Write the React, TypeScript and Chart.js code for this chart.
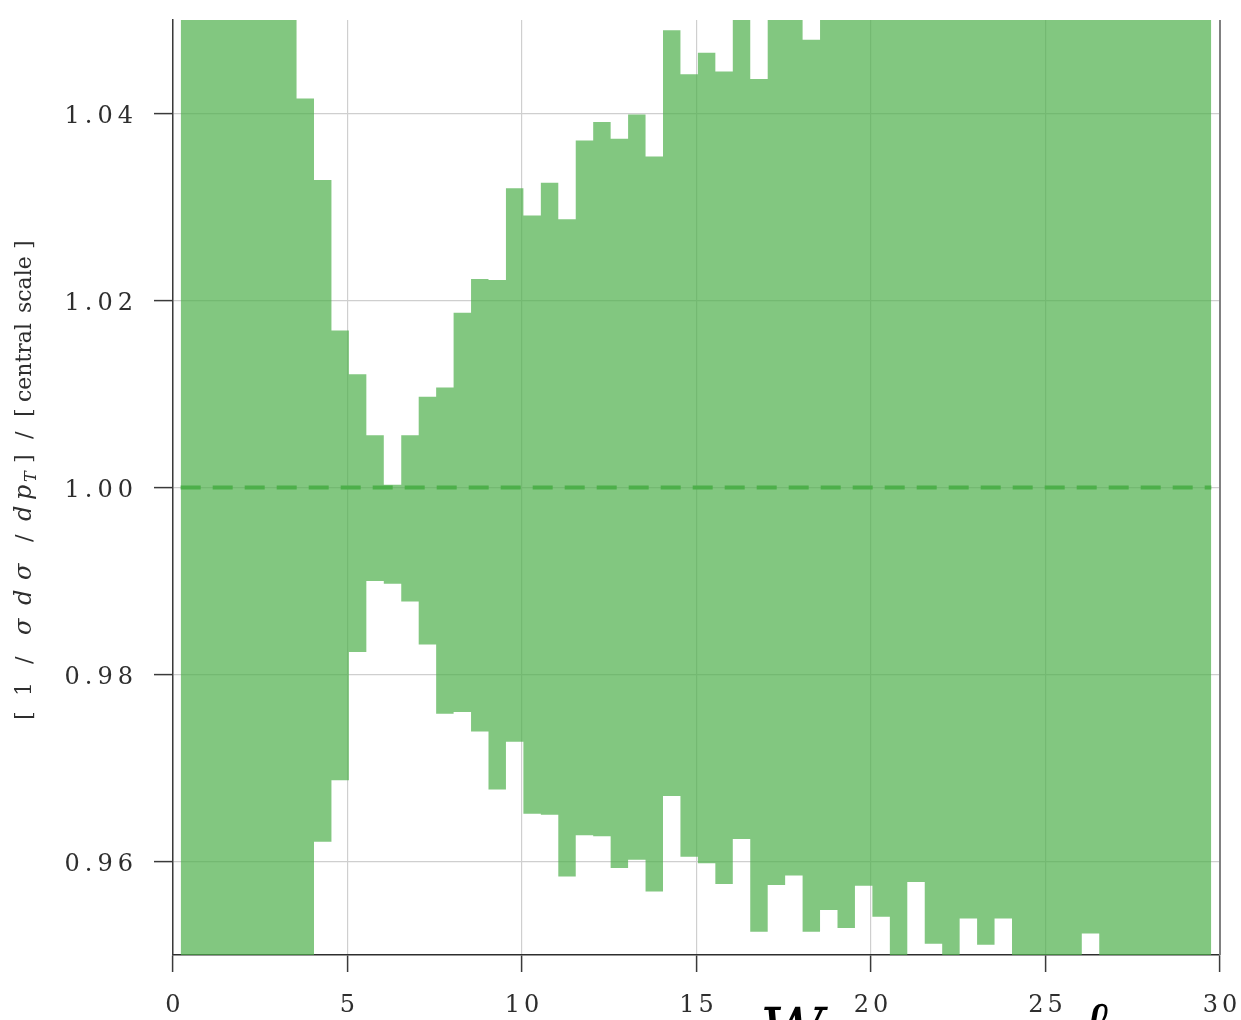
import { useEffect, useRef } from 'react';
import { Chart, registerables } from 'chart.js';

Chart.register(...registerables);

// Bin edges (pT) of the stepped band
const binEdges = [
  0.22, 0.54, 1.04, 1.54, 2.04, 2.54, 3.04, 3.54, 4.04, 4.54,
  5.04, 5.54, 6.04, 6.54, 7.04, 7.54, 8.04, 8.54, 9.04, 9.54,
  10.04, 10.54, 11.04, 11.54, 12.04, 12.54, 13.04, 13.54, 14.04, 14.54,
  15.04, 15.54, 16.04, 16.54, 17.04, 17.54, 18.04, 18.54, 19.04, 19.54,
  20.04, 20.54, 21.04, 21.54, 22.04, 22.54, 23.04, 23.54, 24.04, 24.54,
  25.04, 25.54, 26.04, 26.54, 27.04, 27.54, 28.04, 28.54, 29.04, 29.54,
  29.75,
];

// Upper edge of the scale-variation band, one value per bin
const upperBand = [
  1.09, 1.08, 1.075, 1.07, 1.065, 1.06, 1.055, 1.0416, 1.0329, 1.0168,
  1.0121, 1.0056, 1.0003, 1.0056, 1.0097, 1.0107, 1.0187, 1.0223, 1.0222, 1.032,
  1.0291, 1.0326, 1.0287, 1.0371, 1.0391, 1.0373, 1.0399, 1.0354, 1.0489, 1.0442,
  1.0465, 1.0445, 1.052, 1.0437, 1.053, 1.051, 1.0479, 1.056, 1.054, 1.058,
  1.057, 1.06, 1.055, 1.059, 1.062, 1.057, 1.061, 1.063, 1.058, 1.06,
  1.064, 1.062, 1.059, 1.065, 1.061, 1.063, 1.066, 1.062, 1.064, 1.067,
];

// Lower edge of the band, one value per bin
const lowerBand = [
  0.92, 0.93, 0.935, 0.94, 0.94, 0.945, 0.945, 0.948, 0.9621, 0.9687,
  0.9824, 0.99, 0.9897, 0.9878, 0.9832, 0.9758, 0.976, 0.9739, 0.9677, 0.9728,
  0.9651, 0.965, 0.9584, 0.9628, 0.9627, 0.9593, 0.9602, 0.9568, 0.967, 0.9605,
  0.9598, 0.9576, 0.9624, 0.9525, 0.9575, 0.9585, 0.9525, 0.9548, 0.9529, 0.9574,
  0.9541, 0.948, 0.9578, 0.9512, 0.947, 0.9539, 0.9511, 0.9539, 0.946, 0.949,
  0.945, 0.948, 0.9523, 0.947, 0.944, 0.946, 0.943, 0.945, 0.94, 0.942,
];

// Central scale reference line
const centralX = [0.22, 29.75];
const centralY = [1.0, 1.0];

const xTickValues = [0, 5, 10, 15, 20, 25, 30];
const xTickLabels = ['0', '5', '10', '15', '20', '25', '30'];
const yTickValues = [0.96, 0.98, 1.0, 1.02, 1.04];
const yTickLabels = ['0.96', '0.98', '1.00', '1.02', '1.04'];

// y-axis title pieces: [text, italic, subscript]
const yTitleParts: [string, boolean, boolean][] = [
  ['[', false, false],
  ['1', false, false],
  ['/', false, false],
  ['σ', true, false],
  ['d', true, false],
  ['σ', true, false],
  ['/', false, false],
  ['d', true, false],
  ['p', true, false],
  ['T', true, true],
  [']', false, false],
  ['/', false, false],
  ['[', false, false],
  ['central', false, false],
  ['scale', false, false],
  [']', false, false],
];

const bottomTextLeft = 'W';
const bottomTextRight = 'ℓ';

const FILL = 'rgba(77,175,74,0.7)';
const LINE = '#4daf4a';
const SERIF = '"DejaVu Serif", "Liberation Serif", serif';

// layout of the rotated title pieces (distance along the text from its start)
const TITLE_OFFSETS = [7, 31, 63, 92, 122, 147, 185, 206, 227, 245, 264, 288, 310, 325, 414, 478];

const stepPoints = (vals: number[]) =>
  binEdges.map((x, i) => ({ x, y: vals[Math.min(i, vals.length - 1)] }));

const decorPlugin = {
  id: 'decor',
  afterDraw(chart: any) {
    const { ctx, chartArea: a, scales } = chart;
    const xs = scales.x;
    const ys = scales.y;
    ctx.save();
    // right spine
    ctx.strokeStyle = '#808080';
    ctx.lineWidth = 2;
    ctx.beginPath();
    ctx.moveTo(a.right, a.top);
    ctx.lineTo(a.right, a.bottom);
    ctx.stroke();

    // tick labels
    ctx.fillStyle = '#2e2e2e';
    ctx.font = `24px ${SERIF}`;
    ctx.letterSpacing = '4px';
    ctx.textBaseline = 'alphabetic';
    ctx.textAlign = 'center';
    xTickValues.forEach((v, i) => {
      ctx.fillText(xTickLabels[i], xs.getPixelForValue(v) + 2, 1012);
    });
    ctx.letterSpacing = '5px';
    ctx.textAlign = 'right';
    yTickValues.forEach((v, i) => {
      ctx.fillText(yTickLabels[i], 138, ys.getPixelForValue(v) + 9);
    });

    // y-axis title (rotated)
    ctx.letterSpacing = '0px';
    ctx.textAlign = 'left';
    ctx.translate(31, 727);
    ctx.rotate(-Math.PI / 2);
    yTitleParts.forEach(([t, it, sub], i) => {
      ctx.font = `${it ? 'italic ' : ''}${sub ? 16 : it ? 24 : 22}px ${SERIF}`;
      ctx.fillText(t, TITLE_OFFSETS[i], sub ? 5 : 0);
    });
    ctx.restore();

    // large, partially visible label at the bottom
    ctx.save();
    ctx.fillStyle = '#000';
    ctx.letterSpacing = '0px';
    ctx.font = `italic 62px ${SERIF}`;
    ctx.textAlign = 'left';
    ctx.textBaseline = 'alphabetic';
    ctx.fillText(bottomTextLeft, 760, 1052);
    ctx.fillText(bottomTextRight, 1082, 1045);
    ctx.restore();
  },
};

export default function App() {
  const ref = useRef<HTMLCanvasElement | null>(null);
  useEffect(() => {
    if (!ref.current) return;
    const chart = new Chart(ref.current, {
      type: 'line',
      data: {
        datasets: [
          {
            label: 'central',
            data: centralX.map((x, i) => ({ x, y: centralY[i] })),
            borderColor: LINE,
            borderWidth: 4,
            borderDash: [20, 12],
            borderCapStyle: 'butt',
            pointRadius: 0,
            fill: false,
          },
          {
            label: 'upper',
            data: stepPoints(upperBand),
            stepped: 'before',
            borderColor: 'rgba(0,0,0,0)',
            borderWidth: 0,
            pointRadius: 0,
            backgroundColor: FILL,
            fill: '+1',
          },
          {
            label: 'lower',
            data: stepPoints(lowerBand),
            stepped: 'before',
            borderColor: 'rgba(0,0,0,0)',
            borderWidth: 0,
            pointRadius: 0,
            fill: false,
          },
        ],
      },
      options: {
        animation: false,
        responsive: false,
        devicePixelRatio: 1,
        layout: { padding: { left: 0, right: 21, top: 20, bottom: 0 } },
        plugins: { legend: { display: false }, tooltip: { enabled: false } },
        scales: {
          x: {
            type: 'linear',
            min: 0,
            max: 30,
            afterBuildTicks: (s: any) => {
              s.ticks = xTickValues.map((v) => ({ value: v }));
            },
            afterFit: (s: any) => {
              s.height = 65;
            },
            ticks: { display: false },
            grid: {
              color: '#cfcfcf',
              lineWidth: 1.2,
              drawTicks: true,
              tickLength: 17,
              tickColor: '#3a3a3a',
              tickWidth: 1.5,
            },
            border: { display: true, color: '#2e2e2e', width: 1.5 },
          },
          y: {
            type: 'linear',
            min: 0.95,
            max: 1.05,
            afterBuildTicks: (s: any) => {
              s.ticks = yTickValues.map((v) => ({ value: v }));
            },
            afterFit: (s: any) => {
              s.width = 173;
            },
            ticks: { display: false },
            grid: {
              color: '#cfcfcf',
              lineWidth: 1.2,
              drawTicks: true,
              tickLength: 19,
              tickColor: '#3a3a3a',
              tickWidth: 1.5,
            },
            border: { display: true, color: '#3a3a3a', width: 1.5 },
          },
        },
      },
      plugins: [decorPlugin],
    });
    return () => chart.destroy();
  }, []);

  return (
    <div style={{ position: 'absolute', left: 0, top: 0, width: 1241, height: 1020, background: '#fff' }}>
      <canvas ref={ref} width={1241} height={1020} style={{ display: 'block' }} />
    </div>
  );
}
